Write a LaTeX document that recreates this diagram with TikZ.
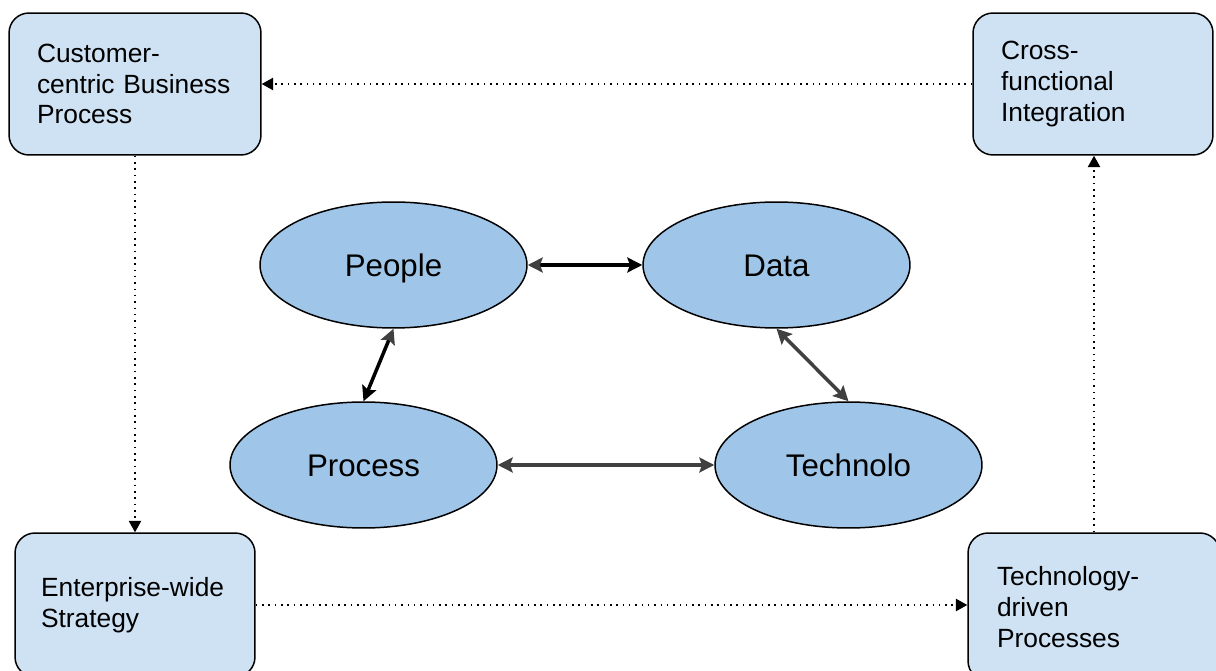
\documentclass[tikz,border=0pt]{standalone}
\usepackage{fontspec}
\setmainfont{Liberation Sans}
\usetikzlibrary{arrows.meta,shapes.geometric}
\definecolor{BoxFill}{HTML}{CFE2F3}
\definecolor{OvalFill}{HTML}{9FC5E8}
\definecolor{DarkLine}{HTML}{404040}

\begin{document}
\begin{tikzpicture}[x=0.02cm, y=-0.02cm,
  every node/.style={font=\fontsize{15}{17.6}\selectfont},
  stagebox/.style={draw=black, line width=0.85pt, fill=BoxFill, rounded corners=0.4cm, align=left, inner ysep=0pt},
  pillar/.style={ellipse, draw=black, line width=0.85pt, fill=OvalFill, minimum width=5.34cm, minimum height=2.52cm, inner sep=0pt, text height=12.8pt, text depth=0pt, font=\fontsize{17.8}{21}\selectfont},
  link/.style={line width=2pt, {Stealth[length=8.5pt,width=8.5pt,inset=1.5pt,color=DarkLine]}-{Stealth[length=8.5pt,width=8.5pt,inset=1.5pt]}},
  flow/.style={line width=0.9pt, dash pattern=on 0.9pt off 2.7pt, -{Triangle[length=6.5pt,width=7pt]}}]
  \useasboundingbox (0,0) rectangle (1216,671);
  \clip (0,0) rectangle (1216,671);

  \node[stagebox, minimum height=2.84cm, text width=3.92cm, inner xsep=0.56cm] (cust) at (135,84) {Customer-\\centric Business\\Process};
  \node[stagebox, minimum height=2.84cm, text width=3.68cm, inner xsep=0.56cm] (cross) at (1093,84) {Cross-\\functional\\Integration};
  \node[stagebox, minimum height=2.88cm, text width=3.76cm, inner xsep=0.52cm] (ent) at (135,605) {Enterprise-wide\\Strategy};
  \node[stagebox, minimum height=2.96cm, text width=3.88cm, inner xsep=0.58cm] (techd) at (1094,607) {Technology-\\driven\\Processes};

  \node[pillar] (people) at (393.5,265) {People};
  \node[pillar] (data) at (776.5,265) {Data};
  \node[pillar] (process) at (363.5,465) {Process};
  \node[pillar] (tech) at (848.5,465) {Technolo};

  \draw[link] (people.east) -- (data.west);
  \draw[link] (people.south) -- (process.north);
  \draw[link, draw=DarkLine] (data.south) -- (tech.north);
  \draw[link, draw=DarkLine] (process.east) -- (tech.west);

  \draw[flow] (cross) -- (cust);
  \draw[flow] (cust) -- (ent);
  \draw[flow] (ent.east) -- (ent.east -| techd.west);
  \draw[flow] (techd.north) -- (techd.north |- cross.south);
\end{tikzpicture}
\end{document}
